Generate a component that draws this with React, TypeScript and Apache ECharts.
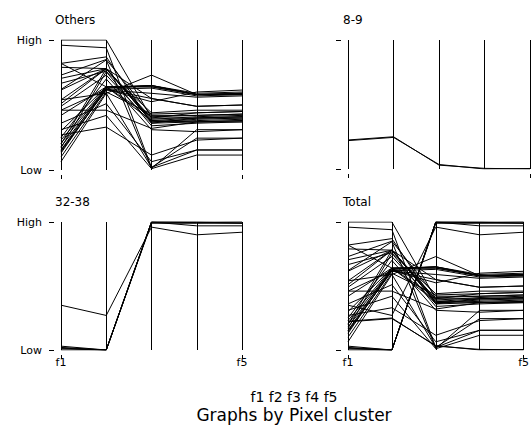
import React, { useEffect, useRef } from "react";
import * as echarts from "echarts";

const variables = ["f1", "f2", "f3", "f4", "f5"];
const panelTitles = ["Others", "8-9", "32-38", "Total"];
const yTickLabels = ["Low", "High"];
const footerText = "f1 f2 f3 f4 f5";
const captionText = "Graphs by Pixel cluster";

const others: number[][] = [
  [1.0, 1.0, 0.4, 0.44, 0.45],
  [0.96, 0.94, 0.02, 0.245, 0.245],
  [0.82, 0.87, 0.36, 0.4, 0.41],
  [0.79, 0.78, 0.55, 0.49, 0.5],
  [0.73, 0.85, 0.42, 0.42, 0.43],
  [0.705, 0.78, 0.38, 0.4, 0.4],
  [0.667, 0.76, 0.44, 0.46, 0.46],
  [0.615, 0.78, 0.37, 0.38, 0.39],
  [0.54, 0.78, 0.39, 0.41, 0.42],
  [0.51, 0.78, 0.4, 0.4, 0.41],
  [0.49, 0.73, 0.36, 0.37, 0.38],
  [0.46, 0.62, 0.525, 0.6, 0.615],
  [0.46, 0.46, 0.32, 0.37, 0.37],
  [0.42, 0.64, 0.65, 0.58, 0.59],
  [0.36, 0.51, 0.064, 0.154, 0.154],
  [0.31, 0.42, 0.01, 0.115, 0.115],
  [0.27, 0.33, 0.115, 0.23, 0.245],
  [0.23, 0.64, 0.64, 0.58, 0.58],
  [0.205, 0.63, 0.65, 0.58, 0.59],
  [0.18, 0.62, 0.63, 0.57, 0.58],
  [0.154, 0.64, 0.64, 0.58, 0.59],
  [0.13, 0.63, 0.65, 0.59, 0.6],
  [0.064, 0.59, 0.73, 0.58, 0.58],
  [0.15, 0.615, 0.59, 0.56, 0.57],
  [0.2, 0.78, 0.37, 0.39, 0.4],
  [0.17, 0.756, 0.34, 0.36, 0.37],
  [0.25, 0.7, 0.31, 0.295, 0.31],
  [0.14, 0.62, 0.55, 0.49, 0.5],
  [0.3, 0.64, 0.41, 0.42, 0.43],
  [0.54, 0.59, 0.02, 0.154, 0.154],
  [0.62, 0.846, 0.012, 0.31, 0.31],
  [0.1, 0.6, 0.43, 0.44, 0.45],
  [0.82, 0.64, 0.38, 0.37, 0.38],
];

const cluster89: number[][] = [
  [0.225, 0.25, 0.03, 0.005, 0.0],
  [0.22, 0.245, 0.035, 0.0, 0.004],
];

const cluster3238: number[][] = [
  [0.35, 0.27, 0.96, 0.9, 0.92],
  [0.03, 0.0, 1.0, 0.97, 0.97],
  [0.02, 0.0, 1.0, 1.0, 1.0],
  [0.01, 0.0, 0.99, 0.99, 0.99],
  [0.0, 0.0, 1.0, 1.0, 0.99],
  [0.015, 0.0, 1.0, 0.995, 1.0],
];

const total: number[][] = [...others, ...cluster89, ...cluster3238];
const panels = [others, cluster89, cluster3238, total];

const FONT = "'DejaVu Sans', sans-serif";
const endsOnly = (idx: number) => idx === 0 || idx === variables.length - 1;

export default function App() {
  const ref = useRef<HTMLDivElement>(null);
  useEffect(() => {
    if (!ref.current) return;
    const chart = echarts.init(ref.current, undefined, { renderer: "svg" });
    const grids = [
      { left: 61, top: 40, width: 181, height: 130 },
      { left: 348, top: 40, width: 182, height: 129 },
      { left: 61, top: 222, width: 181, height: 128 },
      { left: 348, top: 222, width: 182, height: 128 },
    ];
    const xAxis: any[] = [];
    const yAxis: any[] = [];
    const series: any[] = [];
    grids.forEach((_, i) => {
      const bottomRow = i >= 2;
      xAxis.push({
        type: "category",
        gridIndex: i,
        data: variables,
        boundaryGap: false,
        position: "bottom",
        offset: 5,
        axisLine: { show: false, onZero: false },
        axisTick: {
          show: true,
          length: 4,
          interval: (idx: number) => endsOnly(idx),
          lineStyle: { color: "#000", width: 1 },
        },
        axisLabel: {
          show: bottomRow,
          interval: (idx: number) => endsOnly(idx),
          margin: 2,
          color: "#000",
          fontSize: 11,
          fontFamily: FONT,
        },
        splitLine: { show: false },
      });
      xAxis.push({
        type: "value",
        gridIndex: i,
        min: 0,
        max: 4,
        interval: 1,
        position: "top",
        axisLine: { show: false, onZero: false },
        axisTick: { show: false },
        axisLabel: { show: false },
        splitLine: { show: true, lineStyle: { color: "#000", width: 1 } },
      });
      yAxis.push({
        type: "value",
        gridIndex: i,
        min: 0,
        max: 1,
        interval: 1,
        offset: 7,
        axisLine: { show: false, onZero: false },
        axisTick: { show: true, length: 5, lineStyle: { color: "#000", width: 1 } },
        axisLabel: {
          show: i % 2 === 0,
          margin: 12,
          color: "#000",
          fontSize: 11,
          fontFamily: FONT,
          formatter: (v: number) => yTickLabels[Math.round(v)],
        },
        splitLine: { show: false },
      });
      panels[i].forEach((row) => {
        series.push({
          type: "line",
          xAxisIndex: 2 * i,
          yAxisIndex: i,
          data: row.map((v, k) => [variables[k], v]),
          symbol: "none",
          silent: true,
          lineStyle: { color: "#000", width: 1 },
        });
      });
    });
    const titlePos = [
      [55, 20],
      [343, 20],
      [55, 202],
      [343, 202],
    ];
    const graphic: any[] = panelTitles.map((t, i) => ({
      type: "text",
      x: titlePos[i][0],
      y: titlePos[i][1],
      style: {
        text: t,
        fill: "#000",
        fontSize: 12,
        fontFamily: FONT,
        textAlign: "left",
        textVerticalAlign: "middle",
      },
    }));
    graphic.push({
      type: "text",
      x: 294,
      y: 397,
      style: {
        text: footerText,
        fill: "#000",
        fontSize: 14,
        fontFamily: FONT,
        textAlign: "center",
        textVerticalAlign: "middle",
      },
    });
    graphic.push({
      type: "text",
      x: 294,
      y: 415,
      style: {
        text: captionText,
        fill: "#000",
        fontSize: 17,
        fontFamily: FONT,
        textAlign: "center",
        textVerticalAlign: "middle",
      },
    });
    chart.setOption({
      animation: false,
      backgroundColor: "#fff",
      grid: grids,
      xAxis,
      yAxis,
      series,
      graphic,
    });
    return () => chart.dispose();
  }, []);
  return (
    <div
      ref={ref}
      style={{ position: "fixed", left: 0, top: 0, width: 532, height: 433 }}
    />
  );
}
